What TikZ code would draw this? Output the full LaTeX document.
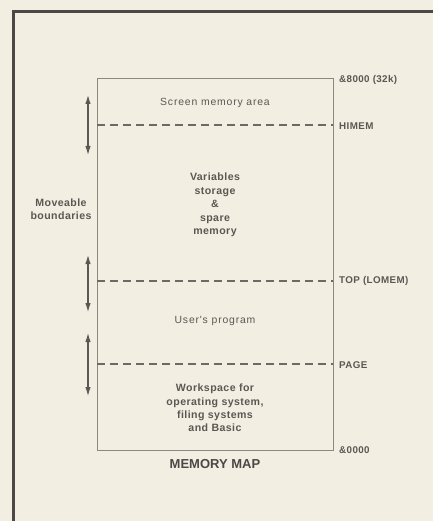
\documentclass[tikz,border=0pt]{standalone}
\usepackage{fontspec}
\setmainfont{Liberation Sans}
\newfontfamily\areafont[LetterSpace=8]{Liberation Sans}
\newfontfamily\boldareafont[LetterSpace=4]{Liberation Sans}
\usetikzlibrary{arrows.meta}
\definecolor{paperfill}{HTML}{F3EEE2}
\definecolor{framedraw}{HTML}{4D4745}
\definecolor{boxdraw}{HTML}{8C8781}
\definecolor{dashdraw}{HTML}{6E6964}
\definecolor{textcolor}{HTML}{5C5753}
\tikzset{
  >={Latex[length=9pt,width=5.5pt]},
  outer frame/.style={
    draw=framedraw,
    line width=3pt
  },
  memory box/.style={
    draw=boxdraw,
    line width=1pt
  },
  boundary/.style={
    draw=dashdraw,
    line width=1.2pt,
    dash pattern=on 8pt off 5pt
  },
  mover/.style={
    draw=textcolor,
    line width=1.1pt,
    <->
  },
  area text/.style={
    font=\areafont\fontsize{10.4}{13.4}\selectfont,
    text=textcolor,
    align=center,
    inner sep=0pt
  },
  bold area text/.style={
    font=\boldareafont\bfseries\fontsize{10.6}{13.4}\selectfont,
    text=textcolor,
    align=center,
    inner sep=0pt
  },
  address/.style={
    font=\boldareafont\bfseries\fontsize{9.8}{11}\selectfont,
    text=textcolor,
    anchor=west,
    inner sep=0pt
  },
  map title/.style={
    font=\bfseries\fontsize{13}{15}\selectfont,
    text=framedraw,
    inner sep=0pt
  }
}
\begin{document}
\begin{tikzpicture}[x=1pt,y=-1pt]
  \useasboundingbox (0,0) rectangle (433,521);
  \fill[paperfill] (0,0) rectangle (433,521);
  \draw[outer frame] (13,521) -- (13,12) -- (433,12);

  % memory map box
  \coordinate (M-top-l) at (97,79);
  \coordinate (M-top-r) at (333,79);
  \coordinate (M-bot-l) at (97,450);
  \coordinate (M-bot-r) at (333,450);
  \draw[memory box] (M-top-l) -- (M-top-r) -- (M-bot-r) -- (M-bot-l) -- cycle;

  % boundaries
  \coordinate (B-1-l) at (97,125);
  \coordinate (B-1-r) at (333,125);
  \coordinate (B-2-l) at (97,281);
  \coordinate (B-2-r) at (333,281);
  \coordinate (B-3-l) at (97,364);
  \coordinate (B-3-r) at (333,364);
  \draw[boundary] (B-1-l) -- (B-1-r);
  \draw[boundary] (B-2-l) -- (B-2-r);
  \draw[boundary] (B-3-l) -- (B-3-r);

  % areas
  \node[area text] (A-1) at (215,103) {Screen memory area};
  \node[bold area text] (A-2) at (215,205)
    {Variables\\storage\\\&\\spare\\memory};
  \node[area text] (A-3) at (215,321) {User's program};
  \node[bold area text] (A-4) at (215,408)
    {Workspace for\\operating system,\\filing systems\\and Basic};
  \node[map title] (T) at (215,464) {MEMORY MAP};

  % addresses
  \node[address] (L-1) at (339,80) {\&8000 (32k)};
  \node[address] (L-2) at (339,126) {HIMEM};
  \node[address] (L-3) at (339,281) {TOP (LOMEM)};
  \node[address] (L-4) at (339,365) {PAGE};
  \node[address] (L-5) at (339,450) {\&0000};

  % moveable boundaries
  \node[bold area text] (MB) at (61,209) {Moveable\\boundaries};
  \coordinate (U-1) at (88,95);
  \coordinate (D-1) at (88,155);
  \coordinate (U-2) at (88,255);
  \coordinate (D-2) at (88,312);
  \coordinate (U-3) at (88,333);
  \coordinate (D-3) at (88,396);
  \draw[mover] (U-1) -- (D-1);
  \draw[mover] (U-2) -- (D-2);
  \draw[mover] (U-3) -- (D-3);
\end{tikzpicture}
\end{document}
